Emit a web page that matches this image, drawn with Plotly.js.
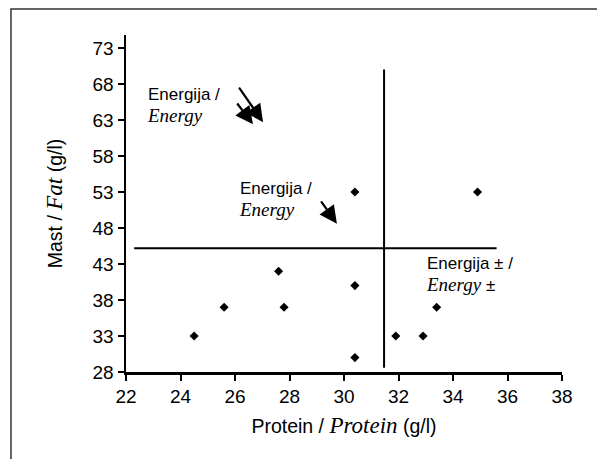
<!DOCTYPE html>
<html><head><meta charset="utf-8">
<script src="https://cdn.plot.ly/plotly-3.0.1.min.js"></script>
<style>html,body{margin:0;padding:0;background:#fff}#c{width:597px;height:459px}</style>
</head><body><div id="c"></div>
<script>
const protein = [24.5, 25.6, 27.6, 27.8, 30.4, 30.4, 30.4, 34.9, 31.9, 32.9, 33.4];
const fat     = [33,   37,   42,   37,   40,   30,   53,   53,   33,   33,   37];
const vLineX = [31.47, 31.47];
const vLineY = [28.6, 70];
const hLineX = [22.3, 35.6];
const hLineY = [45.2, 45.2];
const xTicks = [22, 24, 26, 28, 30, 32, 34, 36, 38];
const yTicks = [28, 33, 38, 43, 48, 53, 58, 63, 68, 73];

const serif = (sz) => 'font-family:\'Liberation Serif\',\'Times New Roman\',serif;font-size:' + sz + 'px';
const font = '"Liberation Sans", Arial, sans-serif';
const it = (t, sz) => '<span style="' + serif(sz) + '"><i>' + t + '</i></span>';

const data = [
  {x: vLineX, y: vLineY, mode: 'lines', line: {color: '#000', width: 2}, hoverinfo: 'skip'},
  {x: hLineX, y: hLineY, mode: 'lines', line: {color: '#000', width: 2}, hoverinfo: 'skip'},
  {x: protein, y: fat, mode: 'markers', marker: {symbol: 'diamond', size: 7, color: '#000'}}
];

const arrow = (tx, ty, hx, hy) => ({x: hx, y: hy, ax: tx, ay: ty, xref: 'x', yref: 'y', axref: 'x', ayref: 'y',
  showarrow: true, arrowhead: 2, arrowsize: 1.6, arrowwidth: 2.2, arrowcolor: '#000', text: ''});
const label = (x, y, t) => ({x: x, y: y, xref: 'x', yref: 'y', xanchor: 'left', yanchor: 'top', align: 'left',
  showarrow: false, text: t, font: {family: font, size: 17, color: '#000'}});

const layout = {
  width: 597, height: 459,
  margin: {l: 126, r: 35, t: 35, b: 87},
  paper_bgcolor: '#fff', plot_bgcolor: '#fff',
  showlegend: false,
  font: {family: font, color: '#000'},
  xaxis: {range: [22, 38], tickvals: xTicks, ticktext: xTicks.map(String), showgrid: false, zeroline: false,
    showline: true, linecolor: '#000', linewidth: 2.5, ticks: 'outside', ticklen: 6, tickwidth: 2, tickcolor: '#000',
    tickfont: {size: 19, family: font}, title: {text: 'Protein / ' + it('Protein', 23) + ' (g/l)', font: {size: 19.5, family: font}, standoff: 13}},
  yaxis: {range: [28, 74.8], tickvals: yTicks, ticktext: yTicks.map(String), showgrid: false, zeroline: false,
    showline: true, linecolor: '#000', linewidth: 2.5, ticks: 'outside', ticklen: 6, tickwidth: 2, tickcolor: '#000',
    tickfont: {size: 19, family: font}, title: {text: 'Mast / ' + it('Fat', 23) + ' (g/l)', font: {size: 19.5, family: font}, standoff: 25}},
  annotations: [
    label(22.7, 68.1, 'Energija /<br>' + it('Energy', 19)),
    label(26.07, 55.1, 'Energija /<br>' + it('Energy', 19)),
    label(32.95, 44.7, 'Energija ± /<br>' + it('Energy', 19) + ' ±'),
    arrow(26.11, 67.7, 27.03, 62.7),
    arrow(26.04, 65.5, 26.66, 62.4),
    arrow(29.12, 51.9, 29.74, 48.6)
  ],
  shapes: [
    {type: 'rect', xref: 'paper', yref: 'paper', x0: -0.2638, x1: 1.2, y0: -0.5, y1: 1.077,
      line: {color: '#333', width: 1.5}, fillcolor: 'rgba(0,0,0,0)'}
  ]
};
Plotly.newPlot('c', data, layout, {displayModeBar: false, staticPlot: true});
</script></body></html>
